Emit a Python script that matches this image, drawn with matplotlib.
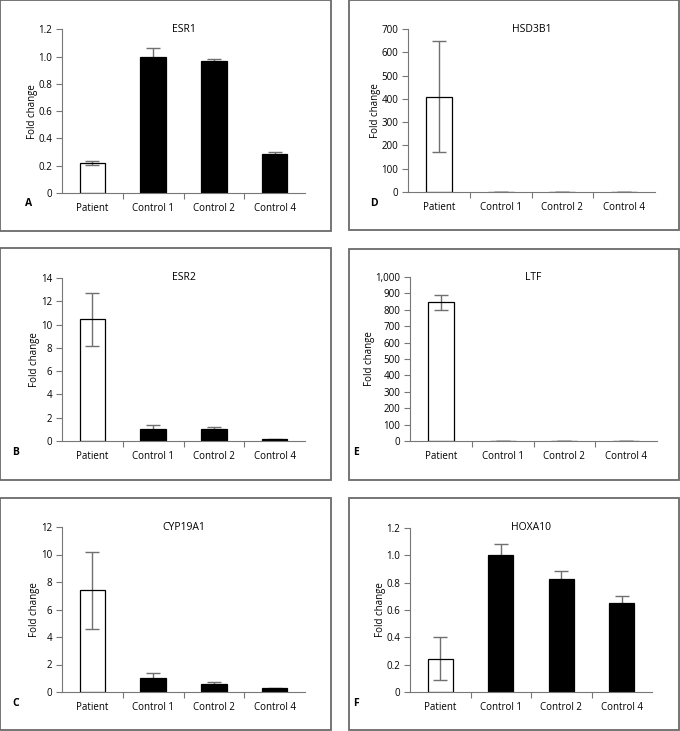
import matplotlib
matplotlib.use("Agg")
import matplotlib.pyplot as plt
from matplotlib.patches import Rectangle
from matplotlib.ticker import FuncFormatter

plt.rcParams['font.family'] = ['Open Sans', 'DejaVu Sans']

categories = ["Patient", "Control 1", "Control 2", "Control 4"]

esr1 = [0.22, 1.0, 0.97, 0.285]
esr1_err = [0.012, 0.065, 0.015, 0.015]

esr2 = [10.45, 1.05, 1.05, 0.15]
esr2_err = [2.3, 0.3, 0.12, 0.03]

cyp19a1 = [7.4, 1.02, 0.6, 0.28]
cyp19a1_err = [2.8, 0.35, 0.1, 0.03]

hsd3b1 = [410, 1.0, 1.0, 1.0]
hsd3b1_err = [237, 0.3, 0.2, 0.2]

ltf = [845, 1.0, 1.0, 1.0]
ltf_err = [45, 0.2, 0.2, 0.2]

hoxa10 = [0.245, 1.0, 0.825, 0.65]
hoxa10_err = [0.16, 0.085, 0.06, 0.055]

W, H = 680, 731
fig = plt.figure(figsize=(W / 100, H / 100), dpi=100)

BOXC = "#6a6a6a"
AXC = "#777777"


def box(x0, y0, x1, y1):
    fig.add_artist(Rectangle((x0 / W, 1 - y1 / H), (x1 - x0) / W, (y1 - y0) / H,
                             transform=fig.transFigure, fill=False,
                             edgecolor=BOXC, linewidth=1.3))


def panel(x0, x1, ytop, y0, vals, errs, ymax, step, title, letter, lx, fmt=None):
    ax = fig.add_axes([x0 / W, 1 - y0 / H, (x1 - x0) / W, (y0 - ytop) / H])
    xs = list(range(len(categories)))
    colors = ["none"] + ["black"] * (len(categories) - 1)
    ax.errorbar(xs, vals, yerr=errs, fmt="none", ecolor="#707070",
                elinewidth=1.0, capsize=5, capthick=1.0, zorder=1)
    ax.bar(xs, vals, width=0.42, color=colors, edgecolor="black",
           linewidth=0.9, zorder=2)
    ax.set_xlim(-0.5, len(categories) - 0.5)
    ax.set_ylim(0, ymax)
    ticks = [i * step for i in range(int(round(ymax / step)) + 1)]
    ax.set_yticks(ticks)
    if fmt is None:
        ax.yaxis.set_major_formatter(FuncFormatter(
            lambda v, p: "0" if v == 0 else ("%.1f" % v if step < 1 else "%d" % v)))
    else:
        ax.yaxis.set_major_formatter(FuncFormatter(fmt))
    ax.set_xticks([x + 0.5 for x in xs[:-1]])
    ax.set_xticklabels([])
    ax.set_xticks(xs, minor=True)
    ax.set_xticklabels(categories, minor=True)
    ax.tick_params(axis="x", which="minor", length=0, labelsize=7, pad=7)
    ax.tick_params(axis="x", which="major", length=4, color=AXC, width=0.8)
    ax.tick_params(axis="y", length=4, color=AXC, width=0.8, labelsize=7, pad=3)
    for s in ["top", "right"]:
        ax.spines[s].set_visible(False)
    for s in ["left", "bottom"]:
        ax.spines[s].set_color(AXC)
        ax.spines[s].set_linewidth(0.8)
    ax.set_ylabel("Fold change", fontsize=7, labelpad=0.5)
    ax.text(0.5, 1.0, title, transform=ax.transAxes, ha="center", va="center",
            fontsize=7.5)
    fig.text(lx / W, 1 - (y0 + 11) / H, letter, ha="center", va="center",
             fontsize=7.5, fontweight="bold")
    return ax


box(0, 0, 331, 231)
box(349, 0, 679, 230)
box(0, 248, 331, 480)
box(349, 249, 679, 480)
box(0, 498, 331, 730)
box(349, 498, 679, 730)

panel(62, 305, 29.3, 193, esr1, esr1_err, 1.2, 0.2, "ESR1", "A", 29)
panel(408, 655, 29, 192, hsd3b1, hsd3b1_err, 700, 100, "HSD3B1", "D", 374)
panel(62, 305, 278, 441, esr2, esr2_err, 14, 2, "ESR2", "B", 16)
panel(410, 657, 277, 441, ltf, ltf_err, 1000, 100, "LTF", "E", 356)
panel(62, 305, 527, 692, cyp19a1, cyp19a1_err, 12, 2, "CYP19A1", "C", 16)
panel(410, 652, 528, 692, hoxa10, hoxa10_err, 1.2, 0.2, "HOXA10", "F", 356)

fig.axes[3].yaxis.set_major_formatter(
    FuncFormatter(lambda v, p: "{:,}".format(int(round(v)))))

fig.savefig("out.png", dpi=100, facecolor="white")
